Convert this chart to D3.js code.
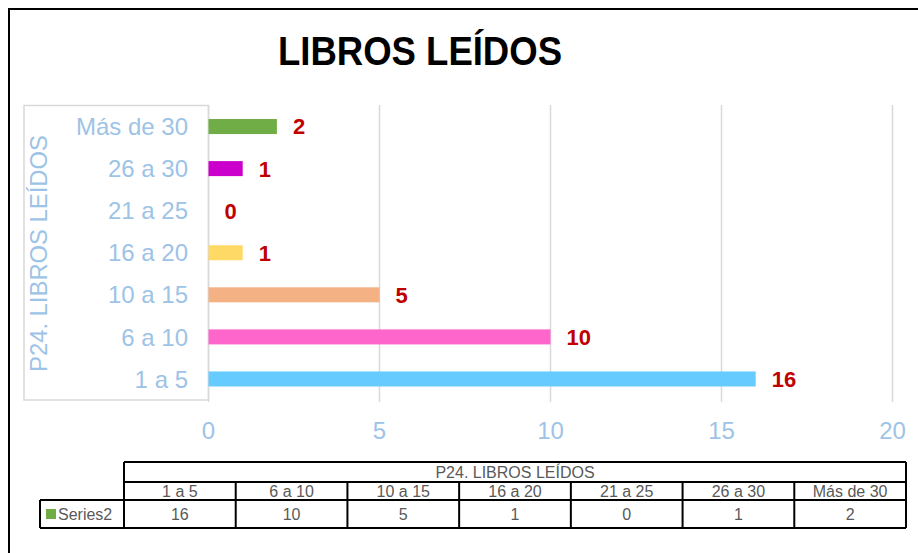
<!DOCTYPE html>
<html><head><meta charset="utf-8">
<script src="https://cdn.jsdelivr.net/npm/d3@7"></script>
<style>body{margin:0;background:#fff}svg{display:block;font-family:"Liberation Sans",Arial,sans-serif}</style>
</head><body>
<svg id="c" width="918" height="553"></svg>
<script>
const title = "LIBROS LEÍDOS";
const axisTitle = "P24. LIBROS LEÍDOS";
const categories = ["1 a 5","6 a 10","10 a 15","16 a 20","21 a 25","26 a 30","Más de 30"];
const values = [16,10,5,1,0,1,2];
const barColors = ["#66CCFF","#FF66CC","#F4B183","#FFD966","#A5A5A5","#CC00CC","#70AD47"];
const xTicks = [0,5,10,15,20];
const seriesName = "Series2";
const seriesColor = "#70AD47";

const svg = d3.select("#c");
// outer frame
svg.append("rect").attr("x",9).attr("y",9).attr("width",930).attr("height",560)
  .attr("fill","none").attr("stroke","#000").attr("stroke-width",2);

svg.append("text").attr("x",420).attr("y",65).attr("text-anchor","middle")
  .attr("font-size",40).attr("font-weight","bold").attr("textLength",284)
  .attr("lengthAdjust","spacingAndGlyphs").text(title);

const x = d3.scaleLinear().domain([0,20]).range([208.5,892.5]);
const y = d3.scaleBand().domain(categories.slice().reverse()).range([105.5,400]).paddingInner(0.643).paddingOuter(0.3215);

// gridlines
svg.append("g").selectAll("line").data(xTicks).join("line")
  .attr("x1",d=>x(d)).attr("x2",d=>x(d)).attr("y1",105).attr("y2",402)
  .attr("stroke","#D9D9D9").attr("stroke-width",1.5);

// category box
svg.append("rect").attr("x",24).attr("y",105.5).attr("width",184.5).attr("height",294.5)
  .attr("fill","none").attr("stroke","#D9D9D9").attr("stroke-width",1.5);

// bars
svg.append("g").selectAll("rect").data(categories).join("rect")
  .attr("x",x(0)).attr("y",d=>y(d)).attr("height",y.bandwidth())
  .attr("width",(d,i)=>x(values[i])-x(0)).attr("fill",(d,i)=>barColors[i]);

// value labels
svg.append("g").selectAll("text").data(categories).join("text")
  .attr("x",(d,i)=>x(values[i])+16).attr("y",d=>y(d)+y.bandwidth()/2)
  .attr("dy","0.36em").attr("font-size",22).attr("font-weight","bold").attr("fill","#C00000")
  .text((d,i)=>values[i]);

// category labels
svg.append("g").selectAll("text").data(categories).join("text")
  .attr("x",188).attr("y",d=>y(d)+y.bandwidth()/2).attr("dy","0.36em")
  .attr("text-anchor","end").attr("font-size",24).attr("fill","#9DC3E6").text(d=>d);

// rotated axis title
svg.append("text").attr("transform","translate(47,253.5) rotate(-90)")
  .attr("text-anchor","middle").attr("font-size",24).attr("fill","#9DC3E6")
  .attr("textLength",237).attr("lengthAdjust","spacingAndGlyphs").text(axisTitle);

// x tick labels
svg.append("g").selectAll("text").data(xTicks).join("text")
  .attr("x",d=>x(d)).attr("y",430).attr("dy","0.36em").attr("text-anchor","middle")
  .attr("font-size",24).attr("fill","#9DC3E6").text(d=>d);

// data table
const tx = d3.scaleBand().domain(categories).range([124,906]);
const t = svg.append("g").attr("font-size",16).attr("fill","#595959");
const line = (x1,y1,x2,y2,w)=>t.append("line").attr("x1",x1).attr("y1",y1).attr("x2",x2).attr("y2",y2)
  .attr("stroke","#000").attr("stroke-width",w||2);
line(124,462,906,462); line(124,482,906,482); line(40,500,906,500); line(40,528,906,528);
line(124,462,124,528); line(906,462,906,528); line(40,500,40,528);
categories.forEach((c,i)=>{ if(i>0) line(tx(c),482,tx(c),528); });
t.append("text").attr("x",515).attr("y",472).attr("dy","0.36em").attr("text-anchor","middle").text(axisTitle);
t.selectAll("text.cat").data(categories).join("text").attr("class","cat")
  .attr("x",d=>tx(d)+tx.bandwidth()/2).attr("y",491).attr("dy","0.36em").attr("text-anchor","middle").text(d=>d);
t.selectAll("text.val").data(categories).join("text").attr("class","val")
  .attr("x",d=>tx(d)+tx.bandwidth()/2).attr("y",514.5).attr("dy","0.36em").attr("text-anchor","middle").text((d,i)=>values[i]);
t.append("rect").attr("x",46).attr("y",509).attr("width",10).attr("height",10).attr("fill",seriesColor);
t.append("text").attr("x",58).attr("y",514.5).attr("dy","0.36em").text(seriesName);
</script>
</body></html>
